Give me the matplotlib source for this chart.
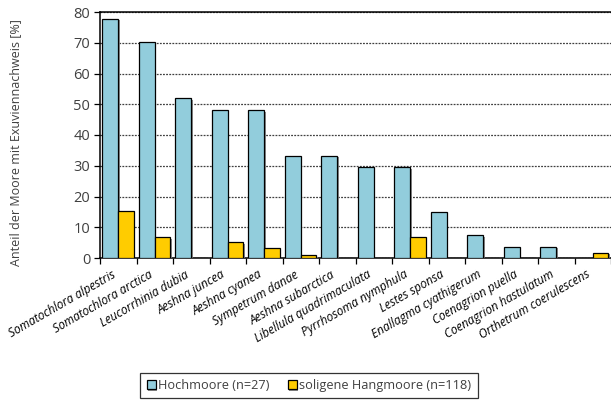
import matplotlib
matplotlib.use("Agg")
import matplotlib.pyplot as plt
import matplotlib.patheffects as pe
import matplotlib.transforms as mtransforms
import numpy as np

species = [
    "Somatochlora alpestris", "Somatochlora arctica", "Leucorrhinia dubia",
    "Aeshna juncea", "Aeshna cyanea", "Sympetrum danae", "Aeshna subarctica",
    "Libellula quadrimaculata", "Pyrrhosoma nymphula", "Lestes sponsa",
    "Enallagma cyathigerum", "Coenagrion puella", "Coenagrion hastulatum",
    "Orthetrum coerulescens",
]
hochmoore = [77.8, 70.4, 51.9, 48.1, 48.1, 33.3, 33.3, 29.6, 29.6, 14.8, 7.4, 3.7, 3.7, 0.0]
hangmoore = [15.3, 6.8, 0.0, 5.1, 3.4, 0.85, 0.0, 0.0, 6.8, 0.0, 0.0, 0.0, 0.0, 1.7]
labels = ["Hochmoore (n=27)", "soligene Hangmoore (n=118)"]

plt.rcParams["font.family"] = ["Open Sans", "DejaVu Sans"]
text_col = "#404040"

fig = plt.figure(figsize=(6.11, 4.05), dpi=100)
ax = fig.add_axes([100 / 611, 1 - 258 / 405, 511 / 611, 246 / 405])

x = np.arange(len(species))
w = 0.43
shadow = [pe.SimplePatchShadow(offset=(1.2, -1.2), shadow_rgbFace="#808080", alpha=0.9), pe.Normal()]
b1 = ax.bar(x - w / 2 - 0.005, hochmoore, width=w, color="#92CDDC", edgecolor="black",
            linewidth=0.9, label=labels[0], zorder=3)
b2 = ax.bar(x + w / 2 - 0.005, hangmoore, width=w, color="#FFCC00", edgecolor="black",
            linewidth=0.9, label=labels[1], zorder=3)
for b in list(b1) + list(b2):
    if b.get_height() > 0:
        b.set_path_effects(shadow)

ax.set_xlim(-0.5, len(species) - 0.5)
ax.set_ylim(0, 80)
ax.set_yticks(range(0, 81, 10))
ax.yaxis.grid(True, linestyle=(0, (1.5, 1)), color="#404040", linewidth=0.9, zorder=0)
ax.set_axisbelow(True)

ax.set_xticks(np.arange(-0.5, len(species) - 0.4, 1.0))
ax.set_xticklabels([])
ax.tick_params(axis="x", length=4, width=0.9, direction="out", color="black")
ax.tick_params(axis="y", length=4, width=0.9, direction="out", color="black",
               labelsize=10.5, labelcolor=text_col, pad=3)

for s in ["left", "bottom", "top"]:
    ax.spines[s].set_linewidth(1.1)
    ax.spines[s].set_color("black")
ax.spines["right"].set_visible(False)

# category labels: right end just left of each category centre, below the axis
lab_tr = mtransforms.blended_transform_factory(ax.transData, ax.transAxes) + \
    mtransforms.ScaledTranslation(0, -10 / 100, fig.dpi_scale_trans)
for i, name in enumerate(species):
    ax.text(i - 0.18, 0, name, rotation=30, ha="right", va="top",
            rotation_mode="anchor", style="italic", fontsize=8.6, color="black",
            transform=lab_tr)

ax.set_ylabel("Anteil der Moore mit Exuviennachweis [%]", fontsize=9, color=text_col)
ax.yaxis.set_label_coords(-0.152, 0.47)

leg = fig.legend(handles=[b1, b2], labels=labels, loc="center",
                 bbox_to_anchor=(309 / 611, 1 - 385.5 / 405),
                 ncol=2, frameon=True, fancybox=False, edgecolor="black", fontsize=9.2,
                 handlelength=0.7, handleheight=0.7, handletextpad=0.2, columnspacing=1.4,
                 borderpad=0.5)
leg.get_frame().set_linewidth(0.9)
for t in leg.get_texts():
    t.set_color(text_col)

fig.savefig("out.png", dpi=100)
